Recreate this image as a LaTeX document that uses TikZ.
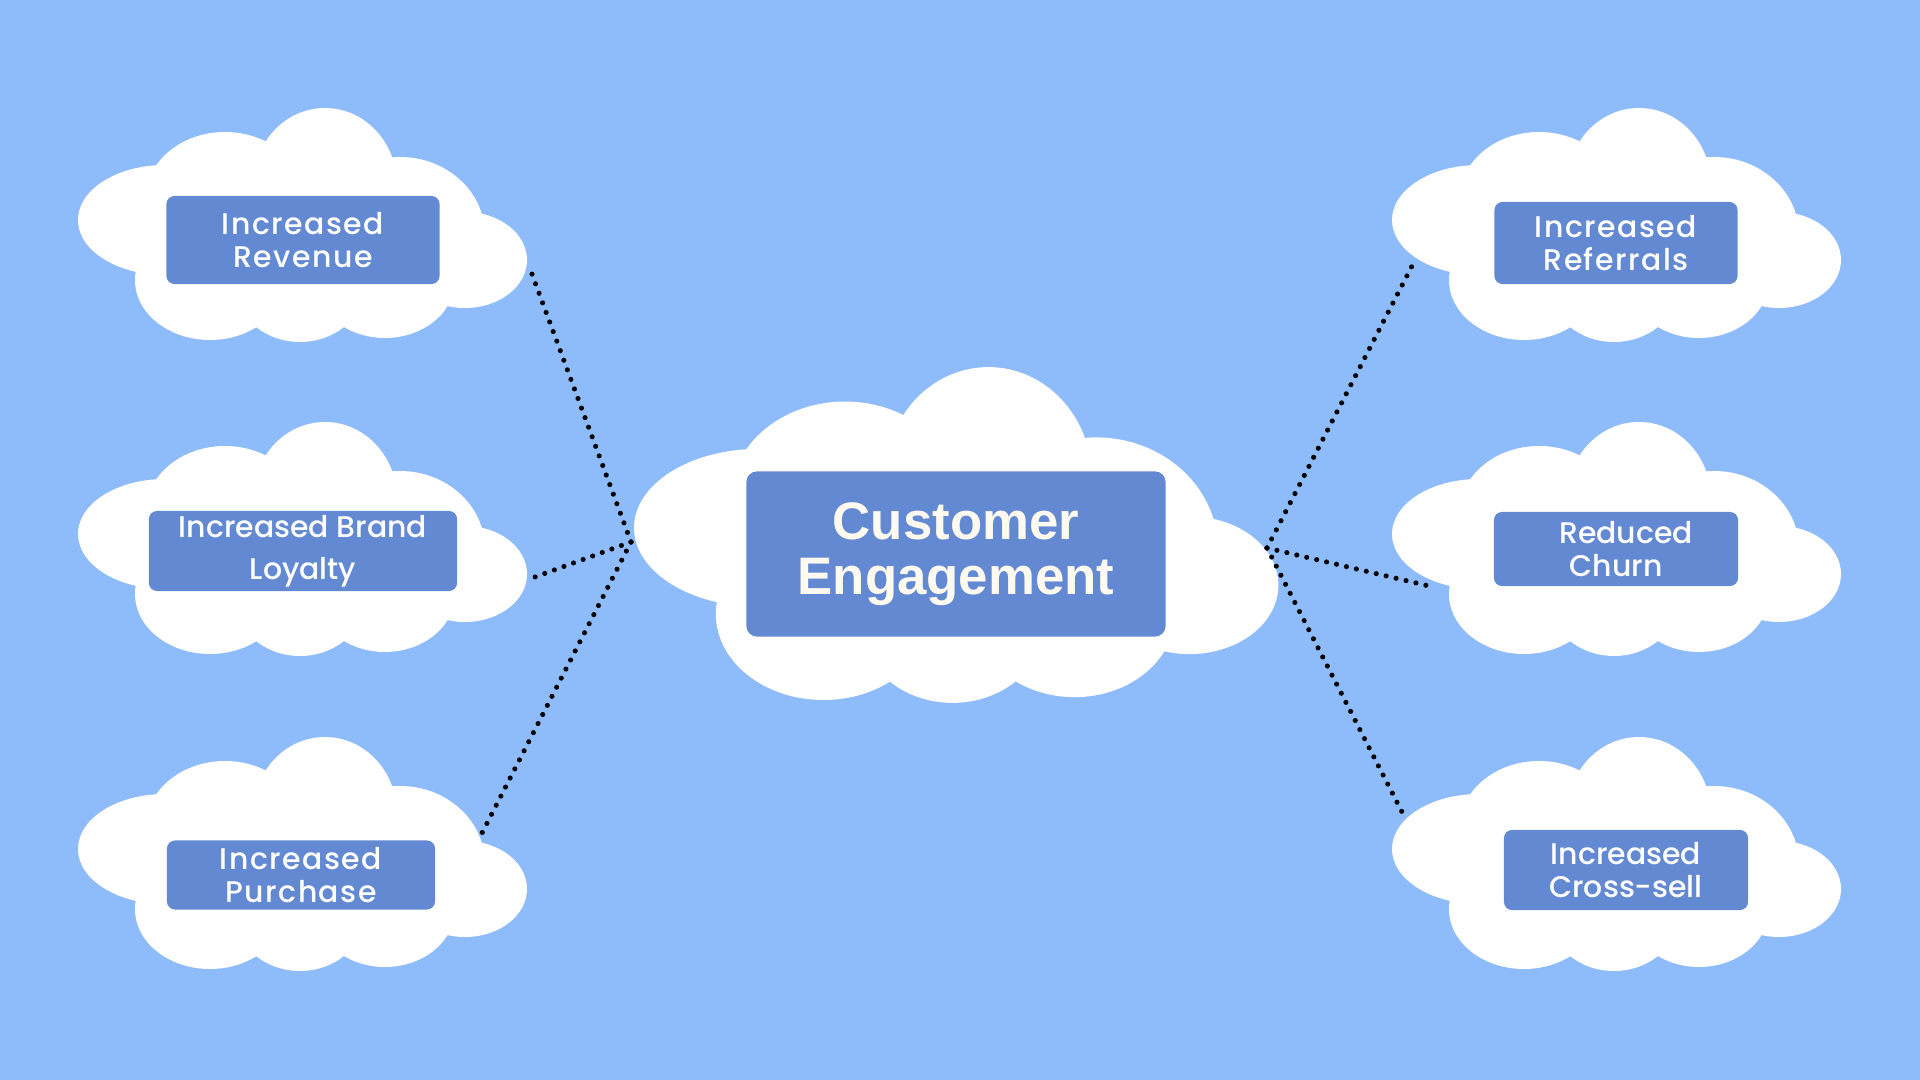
\documentclass[tikz,border=0pt]{standalone}
\usepackage{fontspec}
\setmainfont{Liberation Sans}
\newfontfamily\roundfont{Poppins Medium}
\newfontfamily\roundwidefont[LetterSpace=5]{Poppins Medium}
\definecolor{skyblue}{RGB}{142, 187, 250}
\definecolor{boxblue}{RGB}{99, 137, 210}
\definecolor{cream}{RGB}{255, 250, 240}

\tikzset{
  cloudpuff/.pic={
    \fill[white] (-135,  -5) ellipse (87 and 55);
    \fill[white] ( -75, -25) ellipse (80 and 68);
    \fill[white] (  25, -40) ellipse (72 and 77);
    \fill[white] ( 100,  10) ellipse (85 and 78);
    \fill[white] ( 165,  35) ellipse (62 and 48);
    \fill[white] ( -90,  55) ellipse (75 and 60);
    \fill[white] (   0,  60) ellipse (65 and 57);
    \fill[white] (  85,  55) ellipse (70 and 58);
    \fill[white] (   0,   5) ellipse (170 and 80);
  },
  goalbox/.style={fill=boxblue, rounded corners=2.3pt, text=white, align=center,
                  inner sep=0pt, font=\roundfont\fontsize{8.5}{9.4}\selectfont},
  linkdots/.style={black, line width=1.45pt, dash pattern=on 0pt off 2.9pt, line cap=round}
}

\begin{document}
\begin{tikzpicture}[x=0.01cm, y=-0.01cm]
            \useasboundingbox (0,0) rectangle (1920,1080);
            \fill[skyblue] (0,0) rectangle (1920,1080);

            % clouds
            \pic at ( 300, 225) {cloudpuff};
            \pic at ( 300, 539) {cloudpuff};
            \pic at ( 300, 854) {cloudpuff};
            \pic at (1614, 225) {cloudpuff};
            \pic at (1614, 539) {cloudpuff};
            \pic at (1614, 854) {cloudpuff};
            \pic[scale=1.435] at (952.6, 535) {cloudpuff};

            % labels
            \node[goalbox, minimum width=2.73cm, minimum height=0.88cm, font=\roundwidefont\fontsize{8.5}{9.4}\selectfont]
                 (revenue)  at ( 303, 240) {Increased\\Revenue};
            \node[goalbox, minimum width=3.08cm, minimum height=0.80cm, font=\roundfont\fontsize{8.5}{12}\selectfont]
                 (loyalty)  at ( 303, 551) {Increased Brand\\Loyalty};
            \node[goalbox, minimum width=2.68cm, minimum height=0.69cm, font=\roundwidefont\fontsize{8.5}{9.4}\selectfont]
                 (purchase) at ( 301, 875) {Increased\\Purchase};
            \node[goalbox, minimum width=2.43cm, minimum height=0.82cm, font=\roundwidefont\fontsize{8.5}{9.4}\selectfont]
                 (referral) at (1616, 243) {Increased\\Referrals};
            \node[goalbox, minimum width=2.44cm, minimum height=0.74cm]
                 (churn)    at (1616, 549) {\hspace*{0.2cm}Reduced\\Churn};
            \node[goalbox, minimum width=2.44cm, minimum height=0.80cm]
                 (crosssell) at (1626, 870) {Increased\\Cross-sell};
            \node[goalbox, minimum width=4.19cm, minimum height=1.65cm, text=cream, rounded corners=3pt,
                  font=\bfseries\fontsize{15}{15.5}\selectfont]
                 (engage)   at ( 956, 554) {Customer\\Engagement};

            % dotted links
            \coordinate (hubL) at ( 631, 542);
            \coordinate (hubR) at (1267, 548);
            \coordinate (endRevenue)  at ( 529, 266);
            \coordinate (endLoyalty)  at ( 535, 577);
            \coordinate (endPurchase) at ( 481, 835);
            \coordinate (endReferral) at (1413, 264);
            \coordinate (endChurn)    at (1429, 586);
            \coordinate (endCross)    at (1402, 812);
            \draw[linkdots] (hubL) -- (endRevenue);
            \draw[linkdots] (hubL) -- (endLoyalty);
            \draw[linkdots] (hubL) -- (endPurchase);
            \draw[linkdots] (hubR) -- (endReferral);
            \draw[linkdots] (hubR) -- (endChurn);
            \draw[linkdots] (hubR) -- (endCross);
        \end{tikzpicture}
\end{document}
